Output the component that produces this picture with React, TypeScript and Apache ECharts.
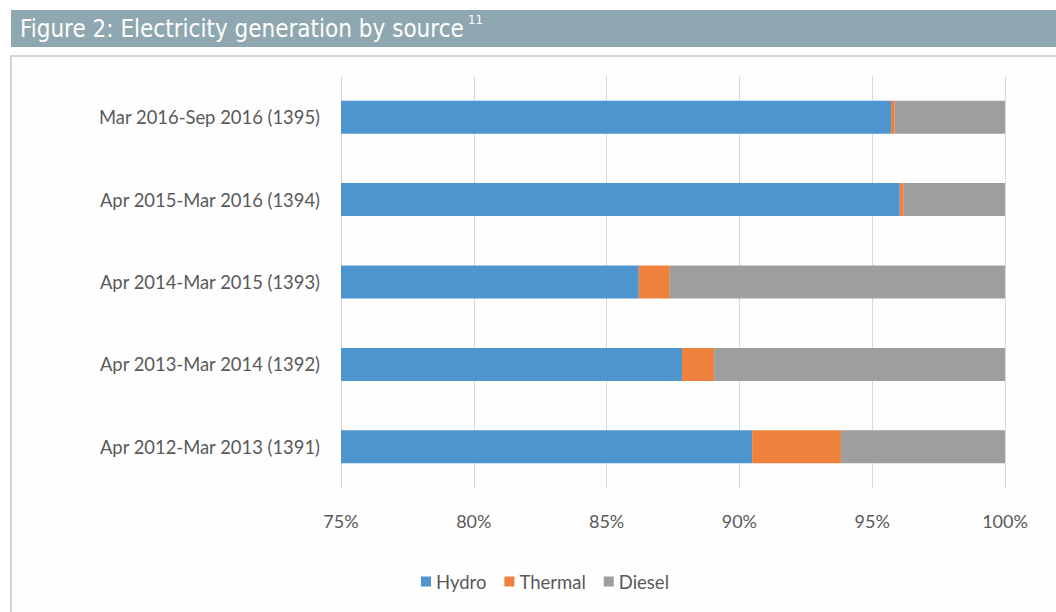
import React, { useEffect, useRef } from "react";
import * as echarts from "echarts";

const categories = [
  "Apr 2012-Mar 2013 (1391)",
  "Apr 2013-Mar 2014 (1392)",
  "Apr 2014-Mar 2015 (1393)",
  "Apr 2015-Mar 2016 (1394)",
  "Mar 2016-Sep 2016 (1395)",
];
const hydro = [90.48, 87.84, 86.21, 96.04, 95.71];
const thermal = [3.35, 1.21, 1.17, 0.15, 0.14];
const diesel = [6.17, 10.95, 12.62, 3.81, 4.15];
const seriesNames = ["Hydro", "Thermal", "Diesel"];
const colors = ["#4e95d0", "#ee813b", "#9d9e9f"];
const titleText = "Figure 2: Electricity generation by source";
const titleSup = "11";

export default function App() {
  const ref = useRef<HTMLDivElement>(null);
  useEffect(() => {
    const chart = echarts.init(ref.current!, undefined, { renderer: "svg" });
    const labelFont = "Lato, 'Open Sans', sans-serif";
    const titleFont = "'DejaVu Sans Condensed', 'DejaVu Sans', sans-serif";
    const option = {
      animation: false,
      backgroundColor: "#ffffff",
      graphic: [
        { type: "rect", shape: { x: 11, y: 10, width: 1045, height: 37 }, style: { fill: "#8fa7b0" }, z: 0 },
        {
          type: "text",
          x: 20,
          y: 29,
          style: {
            text: titleText,
            fill: "#ffffff",
            font: "24px " + titleFont,
            textVerticalAlign: "middle",
          },
        },
        {
          type: "text",
          x: 468,
          y: 19,
          style: {
            text: titleSup,
            fill: "#ffffff",
            font: "13px " + titleFont,
            textVerticalAlign: "middle",
          },
        },
        {
          type: "rect",
          shape: { x: 11, y: 56, width: 1060, height: 570 },
          style: { fill: "#fefefe", stroke: "#d4d4d4", lineWidth: 2 },
          z: -1,
        },
      ],
      grid: { left: 341, right: 51, top: 76, height: 412, containLabel: false },
      xAxis: {
        type: "value",
        min: 75,
        max: 100,
        interval: 5,
        axisLine: { show: false },
        axisTick: { show: false },
        splitLine: { show: true, lineStyle: { color: "#d9d9d9", width: 1 } },
        axisLabel: {
          formatter: "{value}%",
          color: "#595959",
          fontSize: 18,
          fontFamily: labelFont,
          margin: 24,
        },
      },
      yAxis: {
        type: "category",
        data: categories,
        axisLine: { show: true, lineStyle: { color: "#d9d9d9" } },
        axisTick: { show: false },
        axisLabel: { color: "#595959", fontSize: 18.4, fontFamily: labelFont, margin: 21 },
      },
      legend: {
        data: seriesNames,
        top: 567,
        left: 416,
        icon: "rect",
        itemWidth: 10,
        itemHeight: 10,
        itemGap: 18,
        textStyle: { color: "#595959", fontSize: 18.5, fontFamily: labelFont },
      },
      series: [hydro, thermal, diesel].map((d, i) => ({
        name: seriesNames[i],
        type: "bar",
        stack: "total",
        data: d,
        barWidth: 33,
        itemStyle: { color: colors[i] },
        clip: true,
      })),
    };
    chart.setOption(option as any);
    return () => chart.dispose();
  }, []);
  return (
    <div
      ref={ref}
      style={{ position: "fixed", left: 0, top: 0, width: 1056, height: 612 }}
    />
  );
}
